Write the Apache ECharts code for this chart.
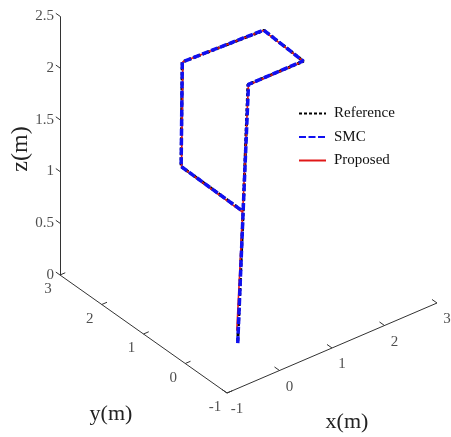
<!DOCTYPE html>
<html>
<head>
<meta charset="utf-8">
<script src="https://cdn.jsdelivr.net/npm/echarts@6/dist/echarts.min.js"></script>
<style>
  html, body { margin: 0; padding: 0; background: #fff; }
  #chart { width: 451px; height: 437px; }
</style>
</head>
<body>
<div id="chart"></div>
<script>
// Axis ticks (metres)
const xTicks = [-1, 0, 1, 2, 3];
const yTicks = [-1, 0, 1, 2, 3];
const zTicks = [0, 0.5, 1, 1.5, 2, 2.5];
const zTickLabels = ['0', '0.5', '1', '1.5', '2', '2.5'];

// Trajectories (x, y, z in metres)
const refX = [0, 0.5, 0.95, 2.0, 2.05, 0.55, 0.52, 0.5];
const refY = [0, 0.5, 0.95, 0.94, 1.95, 2.02, 2.01, 0.5];
const refZ = [0, 1, 2, 2, 2, 2, 1, 1];

const smcX = [0, 0.5, 0.96, 2.0, 2.05, 0.55, 0.52, 0.5];
const smcY = [0, 0.5, 0.95, 0.95, 1.96, 2.02, 2.01, 0.51];
const smcZ = [-0.02, 1, 2, 2, 2, 2, 1, 1];

const propX = [-0.01, 0.49, 0.95, 2.0, 2.04, 0.56, 0.52, 0.5];
const propY = [0.01, 0.5, 0.94, 0.94, 1.95, 2.02, 2.0, 0.5];
const propZ = [0.1, 0.98, 2, 2, 2, 2, 1, 0.99];

// Oblique view: screen position of the (xmin, ymin, 0) corner and
// screen displacement per metre along each axis
const ORIGIN = [227, 393];
const EX = [52.5, -22.5];
const EY = [-41.75, -29.5];
const EZ = [0, -103.5];

const xMin = xTicks[0], xMax = xTicks[xTicks.length - 1];
const yMin = yTicks[0], yMax = yTicks[yTicks.length - 1];
const zMin = zTicks[0], zMax = zTicks[zTicks.length - 1];

function proj(x, y, z) {
  const a = x - xMin, b = y - yMin, c = z - zMin;
  return [
    ORIGIN[0] + EX[0] * a + EY[0] * b + EZ[0] * c,
    ORIGIN[1] + EX[1] * a + EY[1] * b + EZ[1] * c
  ];
}

function path(xs, ys, zs) {
  return xs.map((x, i) => proj(x, ys[i], zs[i]));
}

// Box edges and tick marks
const axisSegs = [
  [proj(xMin, yMin, 0), proj(xMax, yMin, 0)],
  [proj(xMin, yMin, 0), proj(xMin, yMax, 0)],
  [proj(xMin, yMax, zMin), proj(xMin, yMax, zMax)]
];
const tickSegs = [];
xTicks.forEach(v => tickSegs.push([proj(v, yMin, 0), proj(v, yMin + 0.12, 0)]));
yTicks.forEach(v => tickSegs.push([proj(xMin, v, 0), proj(xMin + 0.1, v, 0)]));
zTicks.forEach(v => tickSegs.push([proj(xMin, yMax, v), proj(xMin, yMax + 0.1, v)]));

const font = '"Liberation Serif", "Times New Roman", serif';

function add(p, d) { return [p[0] + d[0], p[1] + d[1]]; }

const xLabelPts = xTicks.map(v => ({ value: add(proj(v, yMin, 0), [10, 16.5]), name: String(v) }));
const yLabelPts = yTicks.map(v => ({ value: add(proj(xMin, v, 0), [-12, 14.5]), name: String(v) }));
const zLabelPts = zTicks.map((v, i) => ({ value: add(proj(xMin, yMax, v), [-6, 0]), name: zTickLabels[i] }));

function labelSeries(data, position) {
  return {
    type: 'scatter',
    silent: true,
    symbolSize: 0.1,
    itemStyle: { color: 'rgba(0,0,0,0)' },
    data: data,
    label: {
      show: true,
      position: position,
      distance: 0,
      formatter: '{b}',
      color: '#222',
      fontFamily: font,
      fontSize: 15
    },
    z: 5
  };
}

const chart = echarts.init(document.getElementById('chart'), null, { renderer: 'canvas' });
chart.setOption({
  animation: false,
  backgroundColor: '#ffffff',
  grid: { left: 0, right: 0, top: 0, bottom: 0 },
  xAxis: { type: 'value', min: 0, max: 451, show: false },
  yAxis: { type: 'value', min: 0, max: 437, inverse: true, show: false },
  legend: {
    data: ['Reference', 'SMC', 'Proposed'],
    orient: 'vertical',
    left: 293,
    top: 101,
    itemWidth: 27,
    itemHeight: 14,
    itemGap: 8.5,
    selectedMode: false,
    itemStyle: { opacity: 0 },
    textStyle: { fontFamily: font, fontSize: 15, color: '#111', padding: [0, 0, 0, 3] }
  },
  graphic: [
    { type: 'text', x: 21, y: 149, rotation: Math.PI / 2,
      style: { text: 'z(m)', font: '24px ' + font, fill: '#222', align: 'center', verticalAlign: 'middle' } },
    { type: 'text', x: 111, y: 414,
      style: { text: 'y(m)', font: '22px ' + font, fill: '#222', align: 'center', verticalAlign: 'middle' } },
    { type: 'text', x: 347, y: 422,
      style: { text: 'x(m)', font: '22px ' + font, fill: '#222', align: 'center', verticalAlign: 'middle' } }
  ],
  series: [
    {
      type: 'lines', coordinateSystem: 'cartesian2d', silent: true,
      data: axisSegs.map(s => ({ coords: s })),
      lineStyle: { color: '#333', width: 1, opacity: 1 }
    },
    {
      type: 'lines', coordinateSystem: 'cartesian2d', silent: true,
      data: tickSegs.map(s => ({ coords: s })),
      lineStyle: { color: '#333', width: 1, opacity: 1 }
    },
    labelSeries(xLabelPts, 'inside'),
    labelSeries(yLabelPts, 'inside'),
    labelSeries(zLabelPts, 'left'),
    {
      name: 'Reference', type: 'line', symbol: 'none',
      data: path(refX, refY, refZ),
      lineStyle: { color: '#000', width: 3, type: [3, 2] },
      itemStyle: { color: '#000' }, z: 6
    },
    {
      name: 'Proposed', type: 'line', symbol: 'none',
      data: path(propX, propY, propZ),
      lineStyle: { color: '#e01818', width: 1.6 },
      itemStyle: { color: '#e01818' }, z: 7
    },
    {
      name: 'SMC', type: 'line', symbol: 'none',
      data: path(smcX, smcY, smcZ),
      lineStyle: { color: '#1010f0', width: 3.5, type: [7, 2.5] },
      itemStyle: { color: '#1010f0' }, z: 8
    }
  ]
});
</script>
</body>
</html>
